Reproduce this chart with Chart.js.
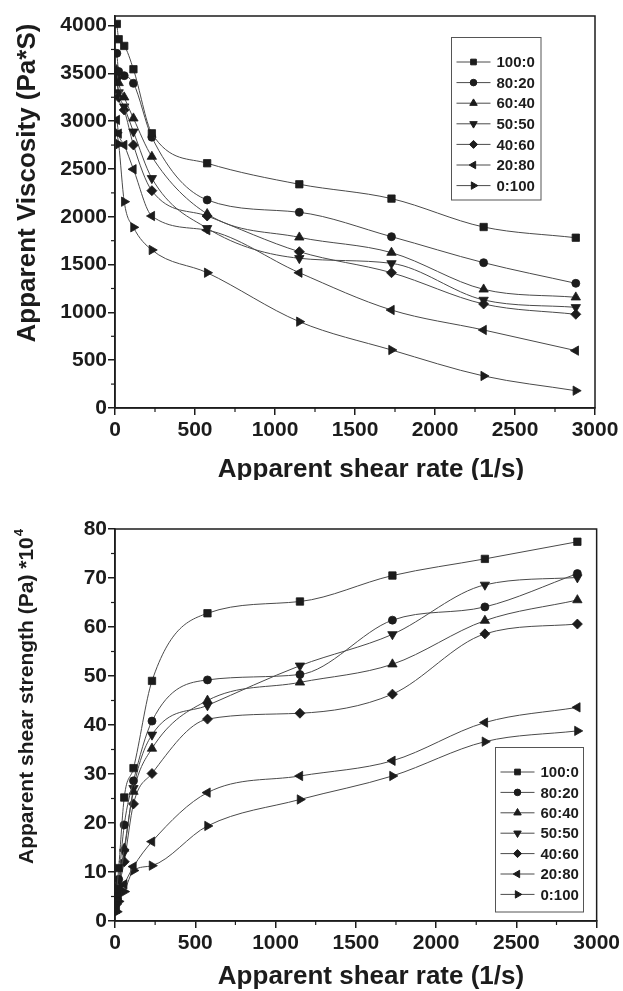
<!DOCTYPE html>
<html><head><meta charset="utf-8">
<script src="https://cdn.jsdelivr.net/npm/chart.js@4.4.1/dist/chart.umd.min.js"></script>
<style>
html,body{margin:0;padding:0;background:#fff;}
#wrap{position:relative;width:623px;height:991px;overflow:hidden;}
#c1{position:absolute;left:0;top:0;}
#c2{position:absolute;left:0;top:480px;}
</style></head><body>
<div id="wrap"><canvas id="c1" width="623" height="480"></canvas><canvas id="c2" width="623" height="511"></canvas></div>
<script>
// ---------- data ----------
const shearRates = [11.52, 23.04, 57.6, 115.2, 230.4, 576, 1152, 1728, 2304, 2880];
const seriesLabels = ['100:0', '80:20', '60:40', '50:50', '40:60', '20:80', '0:100'];

// Apparent viscosity (Pa*S)
const visc_100_0 = [4017, 3857, 3787, 3543, 2873, 2560, 2340, 2190, 1893, 1781];
const visc_80_20 = [3710, 3520, 3476, 3396, 2832, 2176, 2047, 1792, 1520, 1304];
const visc_60_40 = [3536, 3400, 3250, 3030, 2629, 2030, 1785, 1625, 1241, 1158];
const visc_50_50 = [3480, 3300, 3152, 2890, 2403, 1880, 1566, 1513, 1130, 1053];
const visc_40_60 = [3449, 3250, 3117, 2751, 2273, 2008, 1635, 1415, 1088, 980];
const visc_20_80 = [3013, 2870, 2751, 2497, 2008, 1860, 1415, 1025, 816, 600];
const visc_0_100 = [2880, 2760, 2158, 1890, 1653, 1415, 903, 607, 335, 181];

// Apparent shear strength (Pa) *10^4
const str_100_0 = [6.5, 10.8, 25.2, 31.2, 49.0, 62.8, 65.2, 70.5, 73.9, 77.4];
const str_80_20 = [5.5, 8.5, 19.6, 28.6, 40.8, 49.2, 50.3, 61.4, 64.1, 70.9];
const str_60_40 = [4.5, 7.5, 14.8, 26.4, 35.2, 45.0, 48.7, 52.4, 61.3, 65.5];
const str_50_50 = [4.0, 7.0, 14.1, 27.1, 38.0, 44.0, 52.1, 58.5, 68.6, 70.1];
const str_40_60 = [3.5, 6.5, 12.1, 23.9, 30.1, 41.2, 42.4, 46.3, 58.6, 60.6];
const str_20_80 = [2.5, 5.0, 7.5, 11.1, 16.2, 26.2, 29.6, 32.7, 40.5, 43.6];
const str_0_100 = [1.9, 4.0, 6.0, 10.3, 11.3, 19.4, 24.8, 29.6, 36.6, 38.8];

const xTicks = [0, 500, 1000, 1500, 2000, 2500, 3000];
const viscTicks = [0, 500, 1000, 1500, 2000, 2500, 3000, 3500, 4000];
const strTicks = [0, 10, 20, 30, 40, 50, 60, 70, 80];

// ---------- styles ----------
const INK = '#1c1c1c';
const FONT = '"Liberation Sans", Arial, Helvetica, sans-serif';
const markers = [
  {style: 'rect', r: 5.2, rot: 0, lr: 4.0},
  {style: 'circle', r: 4.0, rot: 0, lr: 3.3},
  {style: 'triangle', r: 5.4, rot: 0, lr: 4.3},
  {style: 'triangle', r: 5.4, rot: 180, lr: 4.3},
  {style: 'rectRot', r: 5.0, rot: 0, lr: 4.0},
  {style: 'triangle', r: 5.4, rot: 270, lr: 4.3},
  {style: 'triangle', r: 5.4, rot: 90, lr: 4.3}
];

function buildDatasets(seriesArrays) {
  return seriesArrays.map((vals, i) => ({
    label: seriesLabels[i],
    data: shearRates.map((x, k) => ({x: x, y: vals[k]})),
    borderColor: '#4a4a4a',
    borderWidth: 1,
    backgroundColor: INK,
    pointBackgroundColor: INK,
    pointBorderColor: INK,
    pointBorderWidth: 0.8,
    pointStyle: markers[i].style,
    pointRotation: markers[i].rot,
    pointRadius: markers[i].r,
    pointHoverRadius: markers[i].r,
    cubicInterpolationMode: 'monotone',
    fill: false
  }));
}

const decorPlugin = {
  id: 'decor',
  afterDraw(chart, args, o) {
    const ctx = chart.ctx, a = chart.chartArea, sx = chart.scales.x, sy = chart.scales.y;
    ctx.save();
    ctx.strokeStyle = INK;
    ctx.lineWidth = 1.5;
    ctx.strokeRect(a.left, a.top, a.right - a.left, a.bottom - a.top);
    // minor ticks (midway between major ticks)
    ctx.lineWidth = 1.2;
    for (let k = 0; k < o.xt.length - 1; k++) {
      const px = sx.getPixelForValue((o.xt[k] + o.xt[k + 1]) / 2);
      ctx.beginPath(); ctx.moveTo(px, a.bottom); ctx.lineTo(px, a.bottom + 4); ctx.stroke();
    }
    for (let k = 0; k < o.yt.length - 1; k++) {
      const py = sy.getPixelForValue((o.yt[k] + o.yt[k + 1]) / 2);
      ctx.beginPath(); ctx.moveTo(a.left - 4, py); ctx.lineTo(a.left, py); ctx.stroke();
    }
    // axis titles
    ctx.fillStyle = INK;
    ctx.textAlign = 'center';
    ctx.textBaseline = 'alphabetic';
    ctx.font = 'bold ' + o.xTitleSize + 'px ' + FONT;
    ctx.fillText(o.xTitle, o.xTitleX, o.xTitleY);
    ctx.save();
    ctx.translate(o.yTitleX, o.yTitleY);
    ctx.rotate(-Math.PI / 2);
    ctx.font = 'bold ' + o.yTitleSize + 'px ' + FONT;
    const mainW = ctx.measureText(o.yTitle).width;
    let supW = 0;
    if (o.yTitleSup) {
      ctx.font = 'bold ' + o.supSize + 'px ' + FONT;
      supW = ctx.measureText(o.yTitleSup).width;
    }
    const start = -(mainW + supW) / 2;
    ctx.textAlign = 'left';
    ctx.font = 'bold ' + o.yTitleSize + 'px ' + FONT;
    ctx.fillText(o.yTitle, start, 0);
    if (o.yTitleSup) {
      ctx.font = 'bold ' + o.supSize + 'px ' + FONT;
      ctx.fillText(o.yTitleSup, start + mainW + 1, -o.supRaise);
    }
    ctx.restore();
    // legend
    const L = o.legend;
    ctx.lineWidth = 1;
    ctx.strokeStyle = '#555';
    ctx.strokeRect(L.x, L.y, L.w, L.h);
    ctx.font = 'bold ' + L.size + 'px ' + FONT;
    ctx.textAlign = 'left';
    ctx.textBaseline = 'middle';
    chart.data.datasets.forEach((ds, i) => {
      const yy = L.y + L.first + i * L.step;
      ctx.strokeStyle = '#4a4a4a';
      ctx.lineWidth = 1;
      ctx.beginPath(); ctx.moveTo(L.x + 5, yy); ctx.lineTo(L.x + 39, yy); ctx.stroke();
      ctx.fillStyle = INK; ctx.strokeStyle = INK;
      Chart.helpers.drawPoint(ctx, {pointStyle: markers[i].style, rotation: markers[i].rot, radius: markers[i].lr, borderWidth: 0.8}, L.x + 22, yy);
      ctx.fillStyle = INK;
      ctx.fillText(ds.label, L.x + 45, yy + 1);
    });
    ctx.restore();
  }
};

function makeChart(id, datasets, yMin, yMax, yTicksArr, pad, xH, decor) {
  return new Chart(document.getElementById(id), {
    type: 'line',
    data: {datasets: datasets},
    options: {
      responsive: false,
      animation: false,
      devicePixelRatio: 1,
      layout: {padding: pad},
      plugins: {legend: {display: false}, tooltip: {enabled: false}, decor: decor},
      scales: {
        x: {
          type: 'linear', min: 0, max: 3000,
          afterFit: s => { s.height = xH; },
          afterBuildTicks: s => { s.ticks = xTicks.map(v => ({value: v})); },
          ticks: {color: INK, font: {family: FONT, size: 21, weight: 'bold'}, padding: 3, maxRotation: 0, autoSkip: false,
                  callback: v => String(v)},
          grid: {drawOnChartArea: false, drawTicks: true, tickLength: 7, color: INK, lineWidth: 1.5},
          border: {display: true, color: INK, width: 1.5}
        },
        y: {
          type: 'linear', min: yMin, max: yMax,
          afterFit: s => { s.width = 115; },
          afterBuildTicks: s => { s.ticks = yTicksArr.map(v => ({value: v})); },
          ticks: {color: INK, font: {family: FONT, size: 21, weight: 'bold'}, padding: 1, autoSkip: false,
                  callback: v => String(v)},
          grid: {drawOnChartArea: false, drawTicks: true, tickLength: 7, color: INK, lineWidth: 1.5},
          border: {display: true, color: INK, width: 1.5}
        }
      }
    },
    plugins: [decorPlugin]
  });
}

makeChart('c1',
  buildDatasets([visc_100_0, visc_80_20, visc_60_40, visc_50_50, visc_40_60, visc_20_80, visc_0_100]),
  0, 4100, viscTicks,
  {top: 16, right: 28, left: 0, bottom: 0}, 72,
  {xt: xTicks, yt: viscTicks,
   xTitle: 'Apparent shear rate (1/s)', xTitleSize: 26, xTitleX: 371, xTitleY: 477,
   yTitle: 'Apparent Viscosity (Pa*S)', yTitleSize: 26, yTitleX: 35, yTitleY: 183,
   legend: {x: 451.5, y: 37.5, w: 89.5, h: 162.5, first: 24.5, step: 20.6, size: 15}});

makeChart('c2',
  buildDatasets([str_100_0, str_80_20, str_60_40, str_50_50, str_40_60, str_20_80, str_0_100]),
  0, 80, strTicks,
  {top: 49, right: 26, left: 0, bottom: 0}, 70,
  {xt: xTicks, yt: strTicks,
   xTitle: 'Apparent shear rate (1/s)', xTitleSize: 26, xTitleX: 371, xTitleY: 504,
   yTitle: 'Apparent shear strength (Pa) *10', yTitleSup: '4', supSize: 13, supRaise: 10,
   yTitleSize: 21, yTitleX: 33, yTitleY: 217,
   legend: {x: 495.5, y: 267.5, w: 88, h: 164.5, first: 24.5, step: 20.4, size: 15}});
</script>
</body></html>
